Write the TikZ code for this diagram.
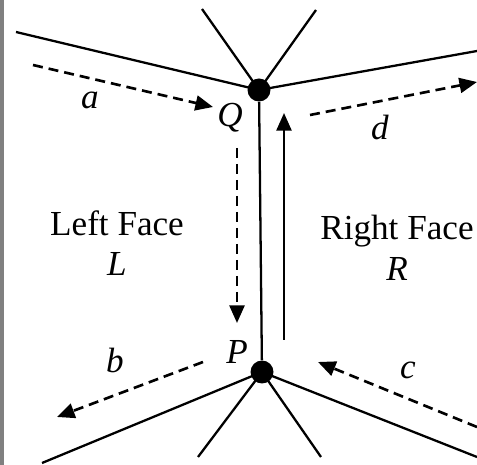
\documentclass[tikz,border=0pt]{standalone}
\usepackage{fontspec}
\setmainfont{Liberation Serif}
\usetikzlibrary{arrows.meta}

\tikzset{
  edge/.style={line width=1.3pt},
  flow/.style={line width=1.5pt, dash pattern=on 5.7pt off 3.4pt, -{Triangle[length=10pt,width=8.5pt]}},
  turn/.style={line width=1.4pt, -{Triangle[length=10pt,width=8.5pt]}},
  vertex/.style={circle, fill=black, inner sep=0pt, minimum size=0.46cm},
  lab/.style={font=\fontsize{20}{23}\selectfont\itshape, inner sep=0pt},
  face/.style={font=\fontsize{20}{23}\selectfont, align=center, inner sep=0pt}
}

\begin{document}
\begin{tikzpicture}[x=0.02cm, y=-0.02cm]
  \useasboundingbox (0,0) rectangle (477,465);
  % frame edge on the left
  \draw[gray, line width=2pt] (2,0) -- (2,465);

  % the two vertices
  \node[vertex] (Q) at (259,90) {};
  \node[vertex] (P) at (262,372) {};

  % loose ends of the edges
  \coordinate (qw) at (16,32);
  \coordinate (qnw) at (202,9);
  \coordinate (qne) at (316,10);
  \coordinate (qe) at (477,51);
  \coordinate (pw) at (42,463);
  \coordinate (psw) at (198,457);
  \coordinate (pse) at (321,457);
  \coordinate (pe) at (477,457);

  % edges
  \draw[edge] (Q) -- (P);
  \draw[edge] (Q.center) -- (qw);
  \draw[edge] (Q.center) -- (qnw);
  \draw[edge] (Q.center) -- (qne);
  \draw[edge] (Q.center) -- (qe);
  \draw[edge] (P.center) -- (pw);
  \draw[edge] (P.center) -- (psw);
  \draw[edge] (P.center) -- (pse);
  \draw[edge] (P.center) -- (pe);

  % ends of the arrows
  \coordinate (a0) at (33,65);
  \coordinate (a1) at (213,107);
  \coordinate (d0) at (310,115);
  \coordinate (d1) at (477,82);
  \coordinate (b0) at (203,362);
  \coordinate (b1) at (57,417);
  \coordinate (c0) at (477,427);
  \coordinate (c1) at (318,362);
  \coordinate (l0) at (237,148);
  \coordinate (l1) at (237,323);
  \coordinate (r0) at (284,340);
  \coordinate (r1) at (284,113);

  % arrows
  \draw[flow] (a0) -- (a1);
  \draw[flow] (d0) -- (d1);
  \draw[flow] (b0) -- (b1);
  \draw[flow] (c0) -- (c1);
  \draw[flow] (l0) -- (l1);
  \draw[turn] (r0) -- (r1);

  % labels
  \node[lab] (alab) at (90,100) {a};
  \node[lab] (qlab) at (230,118) {Q};
  \node[lab] (dlab) at (380,127) {d};
  \node[lab] (plab) at (237,352) {P};
  \node[lab] (blab) at (115,360) {b};
  \node[lab] (clab) at (408,370) {c};

  % faces
  \node[face] (left) at (117,243) {Left Face\\\textit{L}};
  \node[face] (right) at (397,248) {Right Face\\\textit{R}};
\end{tikzpicture}
\end{document}
